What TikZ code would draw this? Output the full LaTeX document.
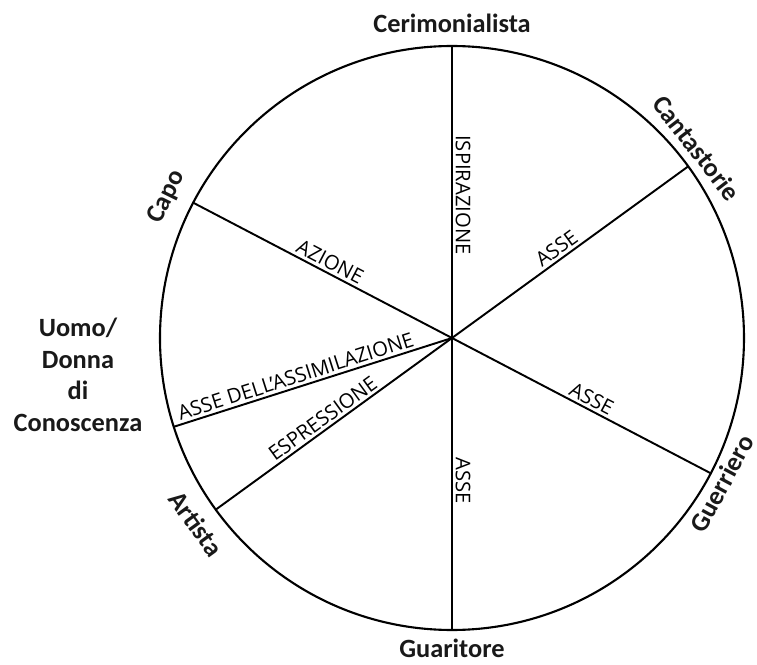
\documentclass[tikz,border=0pt]{standalone}
\usepackage{fontspec}
\setmainfont{Carlito}
\newfontfamily\axisfont{Open Sans}
\begin{document}
\begin{tikzpicture}[
    ruolo/.style={font=\fontsize{15}{18}\selectfont\bfseries, text=black!90},
    asse/.style={font=\axisfont\fontsize{11.5}{13}\selectfont, sloped, above, inner sep=1.5pt},
    raggio/.style={line width=1.1pt}
  ]
  \useasboundingbox (-9.04,-6.54) rectangle (6.10,6.76);
  \draw[line width=1.2pt] (0,0) circle (5.84);
  % punti sul cerchio
  \coordinate (centro) at (0,0);
  \coordinate (nord) at (90:5.84);
  \coordinate (nordest) at (36:5.84);
  \coordinate (sudest) at (-27.6:5.84);
  \coordinate (nordovest) at (152.4:5.84);
  \coordinate (ovest) at (197.7:5.84);
  \coordinate (sudovest) at (216:5.84);
  \coordinate (sud) at (270:5.84);
  % assi
  \draw[raggio] (nord) -- (centro) node[asse, pos=0.51] (ispirazione) {ISPIRAZIONE};
  \draw[raggio] (centro) -- (sud) node[asse, pos=0.49] (assesud) {ASSE};
  \draw[raggio] (centro) -- (nordest) node[asse, pos=0.47] (assene) {ASSE};
  \draw[raggio] (centro) -- (sudest) node[asse, pos=0.52] (assese) {ASSE};
  \draw[raggio] (nordovest) -- (centro) node[asse, pos=0.51] (azione) {AZIONE};
  \draw[raggio] (ovest) -- (centro) node[asse, pos=0.45] (assimilazione) {ASSE DELL’ASSIMILAZIONE};
  \draw[raggio] (sudovest) -- (centro) node[asse, pos=0.48] (espressione) {ESPRESSIONE};
  % ruoli
  \node[ruolo] (cerimonialista) at (0,6.3) {Cerimonialista};
  \node[ruolo, rotate=-52.2] (cantastorie) at (37.8:6.2) {Cantastorie};
  \node[ruolo, rotate=61.7] (guerriero) at (-28.3:6.13) {Guerriero};
  \node[ruolo, rotate=63.7] (capo) at (153.7:6.36) {Capo};
  \node[ruolo, rotate=-54] (artista) at (216:6.32) {Artista};
  \node[ruolo] (guaritore) at (0,-6.21) {Guaritore};
  \node[ruolo, align=center] (uomo) at (-7.48,-0.74) {Uomo/\\Donna\\di\\Conoscenza};
\end{tikzpicture}
\end{document}
